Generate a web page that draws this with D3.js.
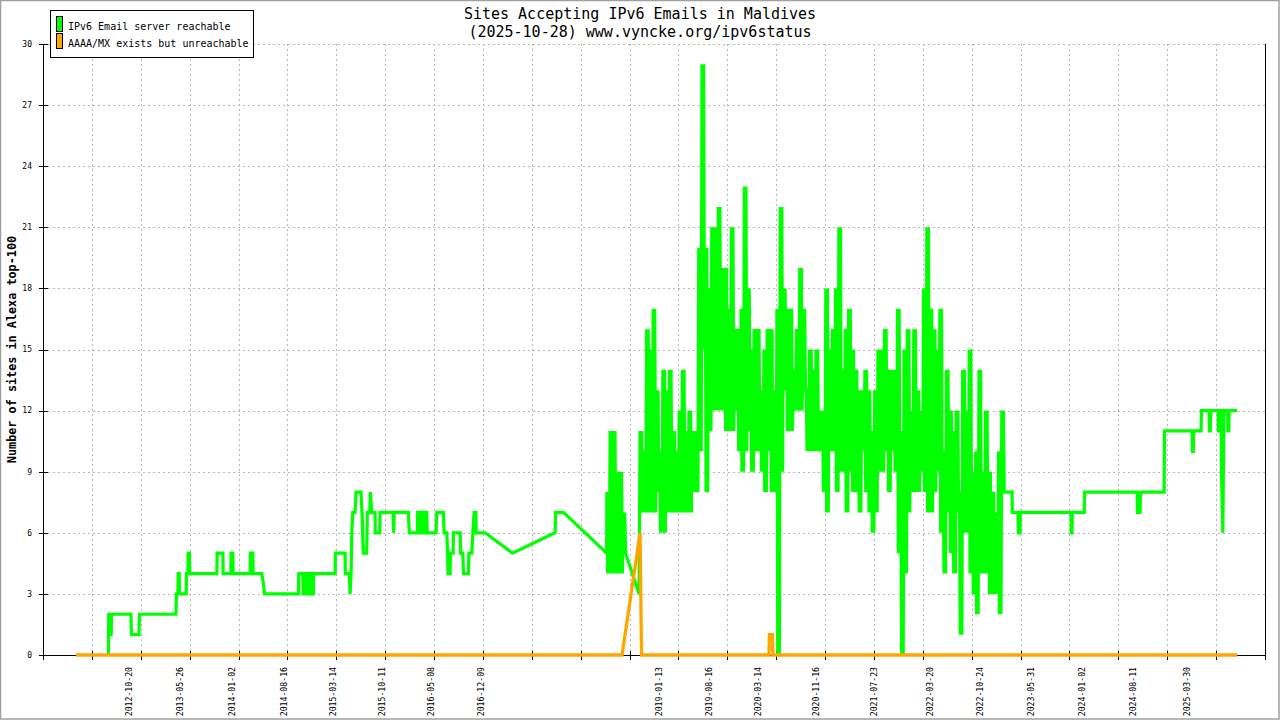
<!DOCTYPE html>
<html><head><meta charset="utf-8">
<script src="https://cdn.jsdelivr.net/npm/d3@7"></script>
<style>html,body{margin:0;padding:0;background:#fff;} svg{display:block;}</style>
</head><body><svg id="c" width="1280" height="720"></svg>
<script>
// ---------- text ----------
const titleLines = ["Sites Accepting IPv6 Emails in Maldives", "(2025-10-28) www.vyncke.org/ipv6status"];
const yAxisTitle = "Number of sites in Alexa top-100";
const seriesNames = ["IPv6 Email server reachable", "AAAA/MX exists but unreachable"];
const seriesColors = ["#00ff00", "#ffa500"];

// ---------- axes ----------
const yTicks = [0, 3, 6, 9, 12, 15, 18, 21, 24, 27, 30];
const axisStartDate = "2011-10-14";
const axisTickStepDays = 210;
const axisTickCount = 26;
const xLabelDates = ["2012-10-20", "2013-05-26", "2014-01-02", "2014-08-16", "2015-03-14", "2015-10-11",
  "2016-05-08", "2016-12-09", "2019-01-13", "2019-08-16", "2020-03-14", "2020-11-16", "2021-07-23",
  "2022-03-20", "2022-10-24", "2023-05-31", "2024-01-02", "2024-08-11", "2025-03-30"];

// ---------- data (time as decimal year, value) ----------
const greenEarly = [
  [2012.552,0],[2012.556,2],[2012.569,2],[2012.572,1],[2012.584,1],[2012.588,2],
  [2012.816,2],[2012.823,1],[2012.910,1],[2012.917,2],
  [2013.345,2],[2013.352,3],[2013.368,3],[2013.372,4],[2013.384,4],[2013.387,3],
  [2013.466,3],[2013.470,4],[2013.486,4],[2013.490,5],[2013.505,5],[2013.508,4],
  [2013.827,4],[2013.831,5],[2013.898,5],[2013.901,4],
  [2013.992,4],[2013.995,5],[2014.015,5],[2014.019,4],
  [2014.219,4],[2014.222,5],[2014.251,5],[2014.254,4],
  [2014.356,4],[2014.372,3.6],[2014.389,3],
  [2014.787,3],[2014.792,4],[2014.839,4],[2014.842,3],[2014.866,3],[2014.869,4],[2014.897,4],[2014.901,3],
  [2014.916,3],[2014.920,4],[2014.944,4],[2014.948,3],[2014.963,3],[2014.967,4],
  [2015.219,4],[2015.222,5],[2015.336,5],[2015.340,4],[2015.387,4],[2015.395,3],[2015.407,4],[2015.415,6],
  [2015.427,7],[2015.454,7],[2015.466,8],[2015.524,8],[2015.536,7],[2015.551,5],[2015.591,5],[2015.598,7],
  [2015.627,7],[2015.634,8],[2015.650,7],[2015.689,7],[2015.692,6],[2015.745,6],[2015.748,7],
  [2015.901,7],[2015.908,6],[2015.915,7],
  [2016.081,7],[2016.092,6],[2016.187,6],[2016.191,7],[2016.218,7],[2016.222,6],[2016.234,6],[2016.238,7],
  [2016.257,7],[2016.261,6],[2016.273,6],[2016.277,7],[2016.297,7],[2016.303,6],
  [2016.406,6],[2016.415,7],[2016.492,7],[2016.501,6],[2016.532,6],[2016.542,5],[2016.546,4],[2016.571,4],
  [2016.575,5],[2016.606,5],[2016.610,6],[2016.689,6],[2016.695,5],[2016.720,5],[2016.728,4],[2016.786,4],
  [2016.792,5],[2016.826,5],[2016.838,6],[2016.853,7],[2016.873,7],[2016.877,6],[2016.983,6],
  [2017.304,5],[2017.806,6],[2017.812,7],[2017.904,7],
  [2018.412,5]
];
// short burst of readings in 2018 (high / low per two-week period)
const greenBurstStart = 2018.415;
const greenBurstHigh = [8, 11, 11, 9, 9, 7];
const greenBurstLow  = [4, 4, 4, 4, 4, 5];
const greenBridge = [[2018.794, 3]];
// dense period 2018-10 .. 2023-02 (high / low per two-week period)
const greenDenseStart = 2018.806;
const periodDays = 14;
const greenDenseHigh = [
  11,10,16,15,17,13,10,14,13,14, 11,10,12,14,11,12,11,11,20,29,
  20,18,21,21,22,19,19,17,21,16, 16,17,23,18,15,16,16,13,15,16,
  16,13,17,22,18,17,17,14,16,19, 17,13,15,14,15,12,12,18,15,16,
  18,21,14,16,17,15,14,13,13,14, 13,11,13,15,15,16,14,14,14,17,
  11,15,16,12,16,13,12,18,21,17, 16,15,17,10,14,12,11,12,8,14,
  12,15,9,10,14,9,12,9,8,7,10,12];
const greenDenseLow = [
  7,7,7,7,7,8,6,6,7,7, 7,7,7,7,7,7,8,8,10,15,
  8,11,12,12,12,12,11,11,11,12, 10,9,10,11,9,10,10,9,8,10,
  8,8,0,9,13,11,11,12,12,12, 13,10,10,10,10,10,8,7,10,10,
  8,9,9,7,9,8,8,7,10,8, 7,6,7,9,9,10,8,10,9,5,
  0,4,7,8,8,8,9,8,7,7, 8,9,6,4,7,5,4,7,1,6,
  6,4,3,2,4,4,4,3,3,3,2,8];
const greenLate = [
  [2023.181,8],[2023.185,7],[2023.252,7],[2023.256,6],[2023.276,6],[2023.279,7],
  [2023.875,7],[2023.879,6],[2023.887,6],[2023.891,7],[2024.031,7],[2024.035,8],
  [2024.652,8],[2024.656,7],[2024.687,7],[2024.691,8],[2024.969,8],[2024.973,11],
  [2025.298,11],[2025.302,10],[2025.313,10],[2025.316,11],[2025.404,11],[2025.408,12],
  [2025.498,12],[2025.502,11],[2025.512,11],[2025.516,12],[2025.604,12],[2025.608,11],
  [2025.618,11],[2025.622,12],[2025.640,12],[2025.644,9],[2025.660,6],[2025.672,12],
  [2025.716,12],[2025.719,11],[2025.730,11],[2025.734,12],[2025.828,12]
];
const orangePoints = [
  [2012.172,0],[2018.594,0],[2018.806,6],[2018.823,0],[2020.323,0],[2020.327,1],
  [2020.364,1],[2020.368,0],[2025.828,0]
];

// ---------- helpers ----------
const DAY = 864e5;
function yearToDate(y) {
  const yr = Math.floor(y), s = Date.UTC(yr, 0, 1), e = Date.UTC(yr + 1, 0, 1);
  return new Date(s + (y - yr) * (e - s));
}
const pts = arr => arr.map(([t, v]) => ({date: yearToDate(t), v}));
// each two-week period swings between its high and its low reading (daily samples alternate)
function expandHL(start, hi, lo) {
  const t0 = yearToDate(start).getTime(), out = [];
  hi.forEach((h, i) => {
    [0, 0.25, 0.5, 0.75].forEach((f, k) => {
      out.push({date: new Date(t0 + (i + f) * periodDays * DAY), v: k % 2 ? lo[i] : h});
    });
  });
  return out;
}
const greenData = [].concat(pts(greenEarly), expandHL(greenBurstStart, greenBurstHigh, greenBurstLow),
  pts(greenBridge), expandHL(greenDenseStart, greenDenseHigh, greenDenseLow), pts(greenLate));
const orangeData = pts(orangePoints);

// ---------- layout ----------
const W = 1280, H = 720;
const L = 43, R = 1265, T = 44, B = 655;
const svg = d3.select("#c");
const font = "'DejaVu Sans Mono', 'Liberation Mono', monospace";

const t0 = new Date(axisStartDate + "T00:00:00Z");
const xTickDates = d3.range(axisTickCount).map(k => new Date(t0.getTime() + k * axisTickStepDays * DAY));
const x = d3.scaleUtc().domain([xTickDates[0], xTickDates[xTickDates.length - 1]]).range([L, R]);
const y = d3.scaleLinear().domain([0, 30]).range([B, T]);

svg.append("rect").attr("x", 0.5).attr("y", 0.5).attr("width", W - 1.5).attr("height", H - 1.5)
  .attr("fill", "#fff").attr("stroke", "#a0a0a0").attr("stroke-width", 1.5);

// grid
const grid = svg.append("g").attr("stroke", "#b8b8b8").attr("stroke-width", 1)
  .attr("stroke-dasharray", "2,3").attr("shape-rendering", "crispEdges");
grid.selectAll(".gy").data(yTicks.filter(v => v > 0)).join("line")
  .attr("x1", L).attr("x2", R).attr("y1", d => Math.round(y(d)) + 0.5).attr("y2", d => Math.round(y(d)) + 0.5);
grid.selectAll(".gx").data(xTickDates.slice(1, -1)).join("line")
  .attr("y1", T).attr("y2", B).attr("x1", d => Math.round(x(d)) + 0.5).attr("x2", d => Math.round(x(d)) + 0.5);

// axes
const axG = svg.append("g").attr("stroke", "#000").attr("stroke-width", 1).attr("shape-rendering", "crispEdges");
axG.append("line").attr("x1", L + 0.5).attr("x2", L + 0.5).attr("y1", T).attr("y2", B + 1);
axG.append("line").attr("x1", R + 0.5).attr("x2", R + 0.5).attr("y1", T).attr("y2", B + 1);
axG.append("line").attr("x1", L).attr("x2", R + 1).attr("y1", B + 0.5).attr("y2", B + 0.5);
axG.selectAll(".ty").data(yTicks).join("line")
  .attr("x1", L - 4).attr("x2", L + 5).attr("y1", d => Math.round(y(d)) + 0.5).attr("y2", d => Math.round(y(d)) + 0.5);
axG.selectAll(".tx").data(xTickDates).join("line")
  .attr("y1", B - 4).attr("y2", B + 5).attr("x1", d => Math.round(x(d)) + 0.5).attr("x2", d => Math.round(x(d)) + 0.5);

// y tick labels
svg.append("g").selectAll("text").data(yTicks).join("text")
  .attr("x", 32).attr("y", d => y(d)).attr("dy", "0.35em").attr("text-anchor", "end")
  .attr("font-family", font).attr("font-size", 8).attr("fill", "#000").text(d => d);

// x labels (rotated)
svg.append("g").selectAll("text").data(xLabelDates).join("text")
  .attr("transform", d => `translate(${x(new Date(d + "T00:00:00Z"))},667) rotate(-90)`)
  .attr("text-anchor", "end").attr("dy", "0.35em")
  .attr("font-family", font).attr("font-size", 8.2).attr("fill", "#000").text(d => d);

// y axis title
svg.append("text").attr("transform", `translate(12,${(T + B) / 2}) rotate(-90)`)
  .attr("text-anchor", "middle").attr("dy", "0.35em").attr("font-family", font)
  .attr("font-size", 11.8).attr("font-weight", "bold").attr("fill", "#000").text(yAxisTitle);

// title
svg.append("g").selectAll("text").data(titleLines).join("text")
  .attr("x", 640).attr("y", (d, i) => 19 + i * 17.5).attr("text-anchor", "middle")
  .attr("font-family", font).attr("font-size", 15).attr("fill", "#000").text(d => d);

// lines
const line = d3.line().x(d => x(d.date)).y(d => y(d.v));
svg.append("path").datum(greenData).attr("d", line).attr("fill", "none")
  .attr("stroke", seriesColors[0]).attr("stroke-width", 3.2).attr("stroke-linejoin", "miter").attr("stroke-miterlimit", 2);
svg.append("path").datum(orangeData).attr("d", line).attr("fill", "none")
  .attr("stroke", seriesColors[1]).attr("stroke-width", 3.3).attr("stroke-linejoin", "miter").attr("stroke-miterlimit", 2);

// legend
const lg = svg.append("g");
lg.append("rect").attr("x", 50.5).attr("y", 10.5).attr("width", 203).attr("height", 47)
  .attr("fill", "#fff").attr("stroke", "#000").attr("shape-rendering", "crispEdges");
seriesNames.forEach((n, i) => {
  lg.append("rect").attr("x", 56.5).attr("y", 16.5 + i * 17).attr("width", 6).attr("height", 15)
    .attr("fill", seriesColors[i]).attr("stroke", "#000").attr("shape-rendering", "crispEdges");
  lg.append("text").attr("x", 68).attr("y", 29.5 + i * 17.3).attr("font-family", font)
    .attr("font-size", 10).attr("fill", "#000").text(n);
});
</script></body></html>
